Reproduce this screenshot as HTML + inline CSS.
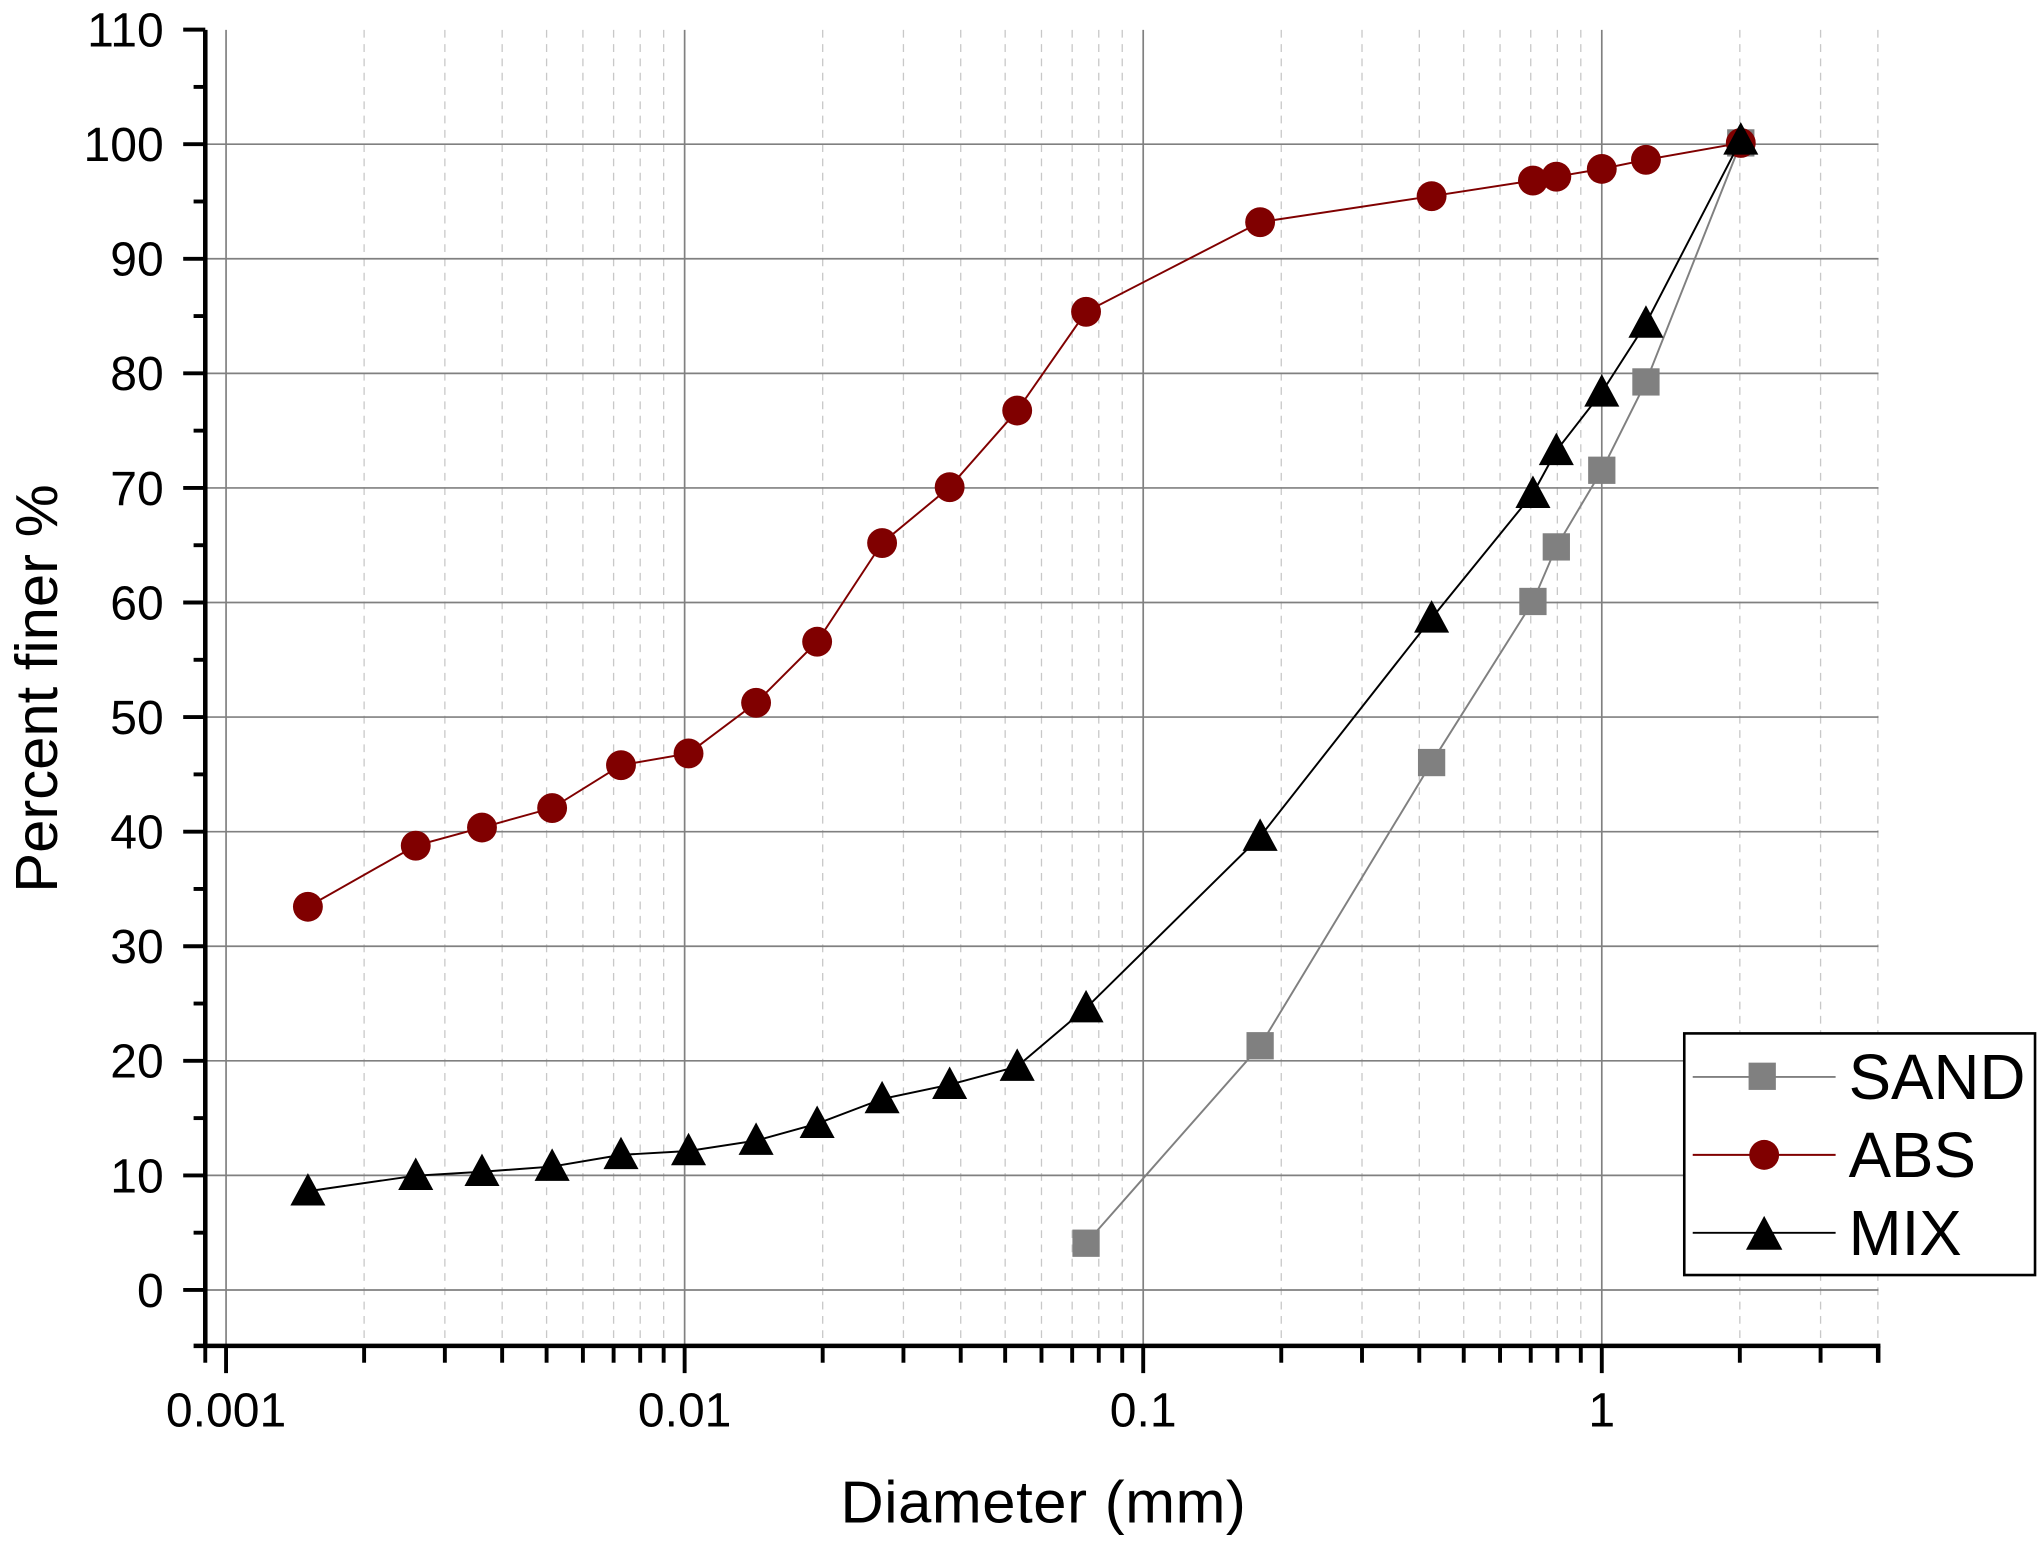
<!DOCTYPE html>
<html><head><meta charset="utf-8"><style>html,body{margin:0;padding:0;background:#fff}svg{display:block}</style></head>
<body>
<svg width="2037" height="1542" viewBox="0 0 1568 1187" xmlns="http://www.w3.org/2000/svg" font-family="Liberation Sans, Arial, sans-serif">
<rect width="1568" height="1187" fill="#fff"/>
<g id="grid"></g>
<g id="series"></g>
<g id="axes"></g>
<g id="legend">
<rect x="1296.5" y="795.5" width="270" height="186" fill="#fff" stroke="#000" stroke-width="2"/>
<line x1="1303" y1="829" x2="1413" y2="829" stroke="#808080" stroke-width="1.5"/>
<rect x="1346" y="818" width="21" height="21" fill="#808080"/>
<line x1="1303" y1="889" x2="1413" y2="889" stroke="#800000" stroke-width="1.5"/>
<circle cx="1358" cy="889" r="11.5" fill="#800000"/>
<line x1="1303" y1="949" x2="1413" y2="949" stroke="#000" stroke-width="1.5"/>
<polygon points="1358,936 1372,962 1344,962" fill="#000"/>
<text x="1423" y="846" font-size="49">SAND</text>
<text x="1423" y="906" font-size="49">ABS</text>
<text x="1423" y="966" font-size="49">MIX</text>
</g>
<text x="647" y="1172" font-size="46" textLength="312">Diameter (mm)</text>
<text transform="translate(44,530) rotate(-90)" font-size="46" text-anchor="middle">Percent finer %</text>
<script>
const NS="http://www.w3.org/2000/svg";
function el(p,t,a,txt){const e=document.createElementNS(NS,t);for(const k in a)e.setAttribute(k,a[k]);if(txt!==undefined)e.textContent=txt;document.getElementById(p).appendChild(e);return e;}
const X=d=>174+353*Math.log10(d/0.001);
const Y=v=>993-8.82*v;
const L=158,R=1446,T=23,B=1036;
// vertical grid
for(let e=-3;e<=0;e++){for(let m=1;m<=9;m++){const d=m*Math.pow(10,e);const x=X(d);if(x>R)break;
 if(m==1) el("grid","line",{x1:x,y1:T,x2:x,y2:B,stroke:"#808080","stroke-width":1.3});
 else el("grid","line",{x1:x,y1:T,x2:x,y2:B,stroke:"#c8c8c8","stroke-width":1,"stroke-dasharray":"6,5"});}}
for(let v=0;v<=100;v+=10){el("grid","line",{x1:L,y1:Y(v),x2:R,y2:Y(v),stroke:"#808080","stroke-width":1.3});}
// axes
el("axes","line",{x1:L,y1:T,x2:L,y2:B+1.5,stroke:"#000","stroke-width":3.5});
el("axes","line",{x1:149,y1:B,x2:R+1.5,y2:B,stroke:"#000","stroke-width":3.5});
for(let v=0;v<=110;v+=5){const y=Y(v);const major=v%10==0;
 el("axes","line",{x1:major?141:149,y1:y,x2:L,y2:y,stroke:"#000","stroke-width":3});
 if(major) el("axes","text",{x:126,y:y+13,"font-size":37,"text-anchor":"end"},String(v));}
el("axes","line",{x1:L,y1:B,x2:L,y2:B+13,stroke:"#000","stroke-width":3});
for(let e=-3;e<=0;e++){for(let m=1;m<=9;m++){const d=m*Math.pow(10,e);const x=X(d);if(x>R+1)break;
 el("axes","line",{x1:x,y1:B,x2:x,y2:B+(m==1?21:13),stroke:"#000","stroke-width":3});}}
el("axes","line",{x1:R,y1:B,x2:R,y2:B+13,stroke:"#000","stroke-width":3});
[["0.001",174],["0.01",527],["0.1",880],["1",1233]].forEach(([t,x])=>el("axes","text",{x:x,y:1098,"font-size":37,"text-anchor":"middle"},t));
// data
const abs=[[237,698],[320,651],[371,637],[425,622],[478,589],[530,580],[582,541],[629,494],[679,418],[731,375],[783,316],[836,240],[970,171],[1102,151],[1180,139],[1198,136],[1233,130],[1267,123],[1340,110]];
const mix=[[237,917],[320,905],[371,902],[425,898],[478,889],[530,886],[582,878],[629,865],[679,846],[731,835],[783,821],[836,776],[970,644],[1102,476],[1180,380],[1198,347],[1233,302],[1267,249],[1340,108]];
const sand=[[836,957],[970,805],[1102,587],[1180,463],[1198,421],[1233,362],[1267,294],[1340,110]];
const pts=a=>a.map(p=>p.join(",")).join(" ");
el("series","polyline",{points:pts(sand),fill:"none",stroke:"#808080","stroke-width":1.5});
sand.forEach(([x,y])=>el("series","rect",{x:x-10.5,y:y-10.5,width:21,height:21,fill:"#808080"}));
el("series","polyline",{points:pts(abs),fill:"none",stroke:"#800000","stroke-width":1.5});
abs.forEach(([x,y])=>el("series","circle",{cx:x,cy:y,r:11.5,fill:"#800000"}));
el("series","polyline",{points:pts(mix),fill:"none",stroke:"#000","stroke-width":1.5});
mix.forEach(([x,y])=>el("series","polygon",{points:`${x},${y-14} ${x+13.5},${y+11} ${x-13.5},${y+11}`,fill:"#000"}));
</script>
</svg>
</body></html>
